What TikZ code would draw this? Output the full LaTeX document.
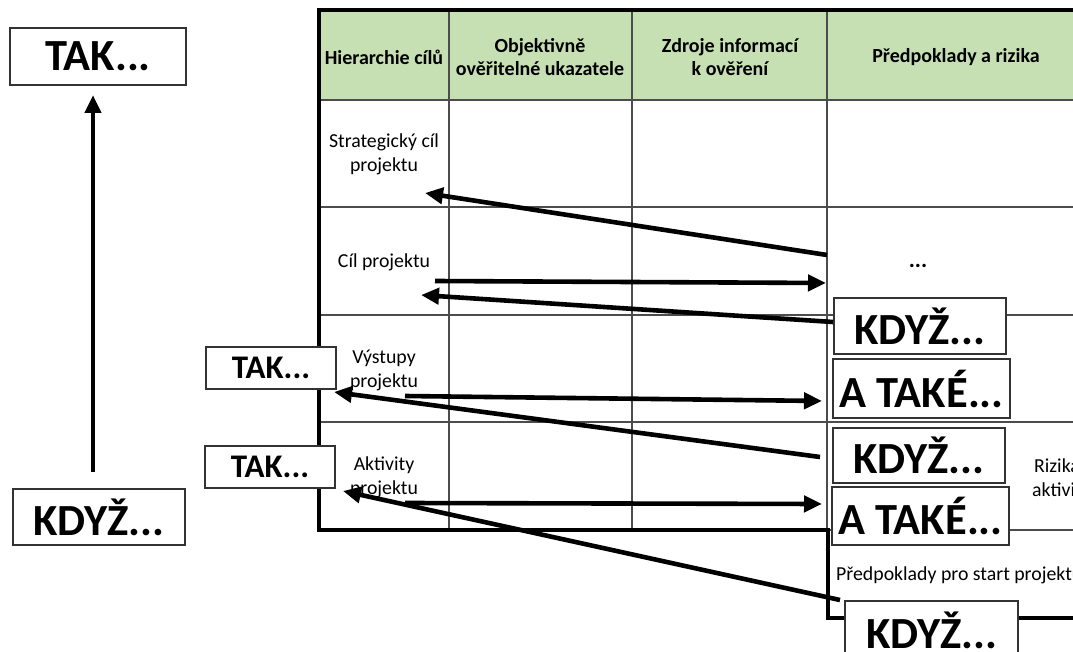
\documentclass[tikz,border=0pt]{standalone}
\usepackage{fontspec}
\setmainfont{Carlito}
\usetikzlibrary{arrows.meta}
\definecolor{hdrgreen}{HTML}{C6E0B4}
\begin{document}
\begin{tikzpicture}[x=1pt,y=-1pt,
  gridline/.style={draw=black!70, line width=1.3pt},
  frameline/.style={draw=black, line width=3.8pt},
  keybox/.style={draw=black!80, line width=1.7pt, fill=white, inner sep=0pt,
    font=\fontsize{44.5}{44.5}\selectfont\bfseries},
  smallkey/.style={keybox, font=\fontsize{33}{33}\selectfont\bfseries},
  hdr/.style={font=\fontsize{20}{23}\selectfont\bfseries, align=center, inner sep=0pt},
  cell/.style={font=\fontsize{19.8}{24}\selectfont, align=center, inner sep=0pt},
  link/.style={line width=4.6pt, -{Triangle[length=18pt,width=16pt]}},
]
\clip (0,0) rectangle (1073,652);
\fill[white] (0,0) rectangle (1073,652);

% header band
\fill[hdrgreen] (319,10) rectangle (1073,100);

% table grid
\draw[gridline] (319,100) -- (1073,100);
\foreach \yy in {207,315,422} \draw[gridline] (319,\yy) -- (1073,\yy);
\draw[gridline] (827,530) -- (1073,530);
\foreach \xx in {449,632,827} \draw[gridline] (\xx,10) -- (\xx,530);

% outer frame
\draw[frameline] (1073,10) -- (319,10) -- (319,530) -- (828,530) -- (828,618) -- (1073,618);

% header texts
\node[hdr] (h1) at (384,57) {Hierarchie cílů};
\node[hdr] (h2) at (540,57) {Objektivně\\ověřitelné ukazatele};
\node[hdr] (h3) at (730,57) {Zdroje informací\\k ověření};
\node[hdr] (h4) at (956,57) {Předpoklady a rizika};

% first column
\node[cell] (strat) at (384,154) {Strategický cíl\\projektu};
\node[cell] (cil) at (384,262) {Cíl projektu};
\node[cell] (vyst) at (384,370) {Výstupy\\projektu};
\node[cell] (akt) at (384,477) {Aktivity\\projektu};

% last column
\node[font=\fontsize{23}{23}\selectfont\bfseries, inner sep=0pt] (dots) at (918,266) {...};
\node[cell] (rizika) at (1057,478) {Rizika\\aktivit};
\node[cell, anchor=west] (start) at (836,575) {Předpoklady pro start projektu};

% condition boxes
\node[keybox, minimum width=176pt, minimum height=57pt] (takL) at (98,56.5) {TAK...};
\node[keybox, minimum width=172pt, minimum height=56pt] (kdyzL) at (99,517) {KDYŽ...};
\node[smallkey, minimum width=130pt, minimum height=42pt] (tak1) at (271,368) {TAK...};
\node[smallkey, minimum width=130pt, minimum height=42pt] (tak2) at (270,467) {TAK...};
\node[keybox, minimum width=172pt, minimum height=56pt] (k1) at (920,326) {KDYŽ...};
\node[keybox, minimum width=177pt, minimum height=59pt] (a1) at (921.5,388.5) {A TAKÉ...};
\node[keybox, minimum width=172pt, minimum height=55pt] (k2) at (919,455.5) {KDYŽ...};
\node[keybox, minimum width=177pt, minimum height=58pt] (a2) at (920.5,516) {A TAKÉ...};
\node[keybox, minimum width=173pt, minimum height=58pt] (k3) at (931.5,630) {KDYŽ...};

% arrow ends
\coordinate (s1) at (827,255);  \coordinate (t1) at (425,193);
\coordinate (s2) at (435,281);  \coordinate (t2) at (826,283);
\coordinate (s3) at (833,322);  \coordinate (t3) at (421,295);
\coordinate (s4) at (405,396);  \coordinate (t4) at (822,401);
\coordinate (s5) at (820,457);  \coordinate (t5) at (334,392);
\coordinate (s6) at (405,503);  \coordinate (t6) at (822,504);
\coordinate (s7) at (840,600);  \coordinate (t7) at (343,491);
\coordinate (s8) at (93,472);   \coordinate (t8) at (93,95);

\draw[link] (s1) -- (t1);
\draw[link] (s2) -- (t2);
\draw[link] (s3) -- (t3);
\draw[link] (s4) -- (t4);
\draw[link] (s5) -- (t5);
\draw[link] (s6) -- (t6);
\draw[link] (s7) -- (t7);
\draw[link] (s8) -- (t8);
\end{tikzpicture}
\end{document}
